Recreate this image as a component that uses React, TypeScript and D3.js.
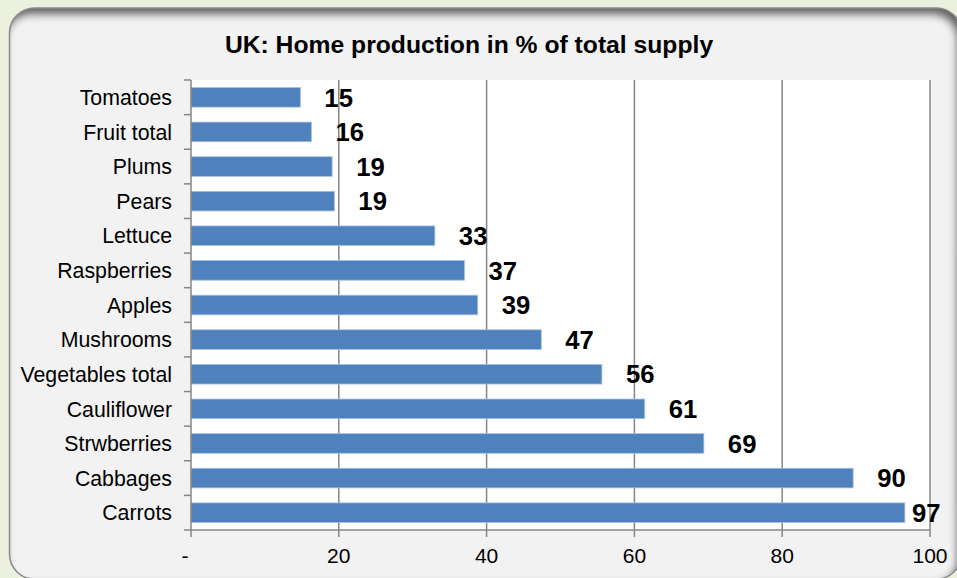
import React from "react";
import * as d3 from "d3";

const categories = [
  "Tomatoes", "Fruit total", "Plums", "Pears", "Lettuce", "Raspberries", "Apples",
  "Mushrooms", "Vegetables total", "Cauliflower", "Strwberries", "Cabbages", "Carrots",
];
const values = [14.8, 16.3, 19.1, 19.4, 33.0, 37.0, 38.8, 47.4, 55.6, 61.4, 69.4, 89.6, 96.6];
const xTicks = [0, 20, 40, 60, 80, 100];
const title = "UK: Home production in % of total supply";

const W = 957;
const H = 578;
const plot = { left: 191, right: 930, top: 80, bottom: 530 };
const FONT = "Liberation Sans, Arial, sans-serif";

function roundedRect(x: number, y: number, w: number, h: number, r: number) {
  const p = d3.path();
  p.moveTo(x + r, y);
  p.lineTo(x + w - r, y);
  p.arcTo(x + w, y, x + w, y + r, r);
  p.lineTo(x + w, y + h - r);
  p.arcTo(x + w, y + h, x + w - r, y + h, r);
  p.lineTo(x + r, y + h);
  p.arcTo(x, y + h, x, y + h - r, r);
  p.lineTo(x, y + r);
  p.arcTo(x, y, x + r, y, r);
  p.closePath();
  return p.toString();
}

export default function App() {
  const x = d3.scaleLinear().domain([0, 100]).range([plot.left, plot.right]);
  const y = d3.scaleBand<string>().domain(categories).range([plot.top, plot.bottom]).padding(0);
  const step = y.step();
  const barH = step * 0.567;
  const fmt = d3.format(".0f");
  const tickFmt = (v: number) => (v === 0 ? "-" : d3.format("d")(v));
  const axisColor = "#868686";

  const panel = roundedRect(9.5, 8, 952, 571, 25);
  const outer = `M-100,-100H1100V700H-100Z`;

  return (
    <svg width={W} height={H} style={{ position: "absolute", left: 0, top: 0 }} fontFamily={FONT}>
      <defs>
        <clipPath id="panelClip">
          <path d={panel} />
        </clipPath>
        <filter id="blur" x="-20%" y="-20%" width="140%" height="140%">
          <feGaussianBlur stdDeviation="4.5" />
        </filter>
      </defs>
      <rect x={0} y={0} width={W} height={H} fill="#ebf1de" />
      <path d={panel} fill="#f2f2f2" />
      <g clipPath="url(#panelClip)">
        <path d={outer + panel} fillRule="evenodd" fill="#000" opacity={0.6} filter="url(#blur)" transform="translate(-4,6)" />
      </g>
      <path d={panel} fill="none" stroke="#8a8a8a" strokeWidth={1.5} />

      <text x={469} y={53} textAnchor="middle" fontWeight="bold" fontSize={24.7} fill="#000">
        {title}
      </text>

      <rect x={plot.left} y={plot.top} width={plot.right - plot.left} height={plot.bottom - plot.top} fill="#fff" />

      {xTicks.filter((t) => t > 0).map((t) => (
        <line key={"g" + t} x1={x(t)} x2={x(t)} y1={plot.top} y2={plot.bottom} stroke={axisColor} strokeWidth={1.5} />
      ))}

      {categories.map((c, i) => (
        <rect
          key={c}
          x={x(0)}
          y={(y(c) as number) + (step - barH) / 2}
          width={x(values[i]) - x(0)}
          height={barH}
          fill="#4f81bd"
          stroke="#a9c1e0"
          strokeWidth={0.8}
        />
      ))}

      {/* category axis */}
      <line x1={plot.left} x2={plot.left} y1={plot.top} y2={plot.bottom} stroke={axisColor} strokeWidth={1.5} />
      {d3.range(categories.length + 1).map((i) => (
        <line key={"ct" + i} x1={plot.left - 7} x2={plot.left} y1={plot.top + i * step} y2={plot.top + i * step} stroke={axisColor} strokeWidth={1.5} />
      ))}
      {categories.map((c) => (
        <text key={"cl" + c} x={172} y={(y(c) as number) + step / 2} dy="0.36em" textAnchor="end" fontSize={21.3} fill="#000">
          {c}
        </text>
      ))}

      {/* value axis */}
      <line x1={plot.left} x2={plot.right} y1={plot.bottom} y2={plot.bottom} stroke={axisColor} strokeWidth={1.5} />
      {xTicks.map((t) => (
        <line key={"vt" + t} x1={x(t)} x2={x(t)} y1={plot.bottom} y2={plot.bottom + 7} stroke={axisColor} strokeWidth={1.5} />
      ))}
      {xTicks.map((t) => (
        <text key={"vl" + t} x={t === 0 ? x(t) - 6 : x(t)} y={563} textAnchor="middle" fontSize={21} fill="#000">
          {tickFmt(t)}
        </text>
      ))}

      {/* data labels */}
      {categories.map((c, i) => (
        <text
          key={"dl" + c}
          x={Math.min(x(values[i]) + 24, x(100) - 18)}
          y={(y(c) as number) + step / 2}
          dy="0.36em"
          fontSize={25.7}
          fontWeight="bold"
          fill="#000"
        >
          {fmt(values[i])}
        </text>
      ))}
    </svg>
  );
}
